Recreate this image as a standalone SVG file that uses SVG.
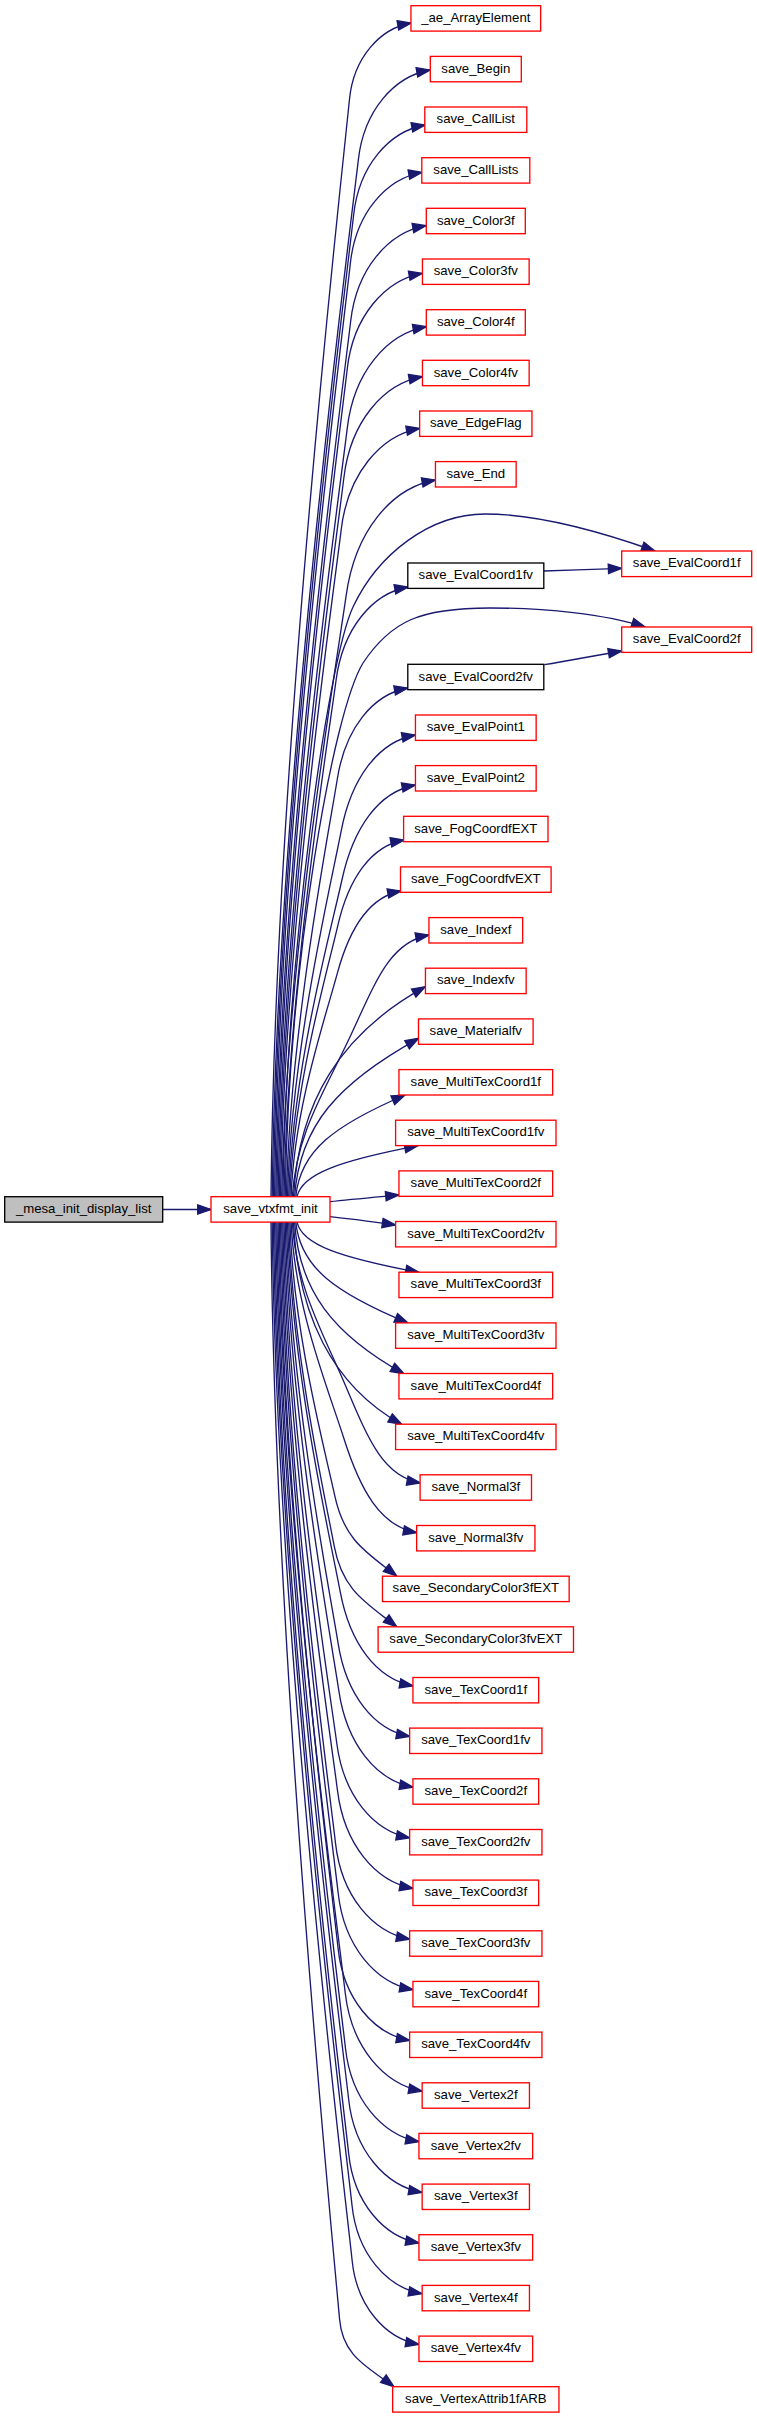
<svg xmlns="http://www.w3.org/2000/svg" width="757" height="2419" viewBox="0 0 757 2419">
<style>
.n rect{fill:#ffffff;stroke:#ff0000;stroke-width:1.33}
.b rect{stroke:#000000}
.g rect{fill:#bfbfbf;stroke:#000000}
text{font-family:"Liberation Sans",Arial,Helvetica,sans-serif;font-size:13.2px;text-anchor:middle;fill:#000000}
.e path{fill:none;stroke:#191970;stroke-width:1.33;marker-end:url(#ah)}
</style>
<defs>
<marker id="ah" markerUnits="userSpaceOnUse" orient="auto" overflow="visible" refX="0" refY="0" markerWidth="1" markerHeight="1">
<path d="M-13.3,-4.67 L0,0 L-13.3,4.67 Z" fill="#191970" stroke="#191970" stroke-width="1.33"/>
</marker>
</defs>
<rect x="0" y="0" width="757" height="2419" fill="#ffffff"/>
<g id="edges" class="e">
<path d="M162.7,1209.5 L211,1209.5"/>
<path d="M297,1196.7 C301.8,1173.8 339.4,1161 418,1145.7"/>
<path d="M295.8,1196.7 C300.2,1150.9 334,1125.5 405,1095"/>
<path d="M294.6,1196.7 C299.6,1125.4 338,1083 418.7,1038.3"/>
<path d="M293.5,1196.7 C298.8,1102.2 339.6,1034.1 425.3,986.7"/>
<path d="M292.3,1196.7 C296.4,1133 323.3,1093.9 349.7,1037.5 S389.4,942.2 429,935"/>
<path d="M291.1,1196.7 C294.4,1107.4 325.1,1018.7 337.3,973.4 S369.2,896.8 401,891"/>
<path d="M289.9,1196.7 C293.3,1088.3 327,972.7 337.8,925.6 S370.9,846 404,840"/>
<path d="M288.7,1196.7 C292.5,1070 330.5,932.3 341.9,880 S378.6,791.7 415.3,785"/>
<path d="M287.5,1196.7 C291.3,1050.4 331.1,883.6 341.2,830.9 S378.3,741.7 415.3,735"/>
<path d="M286.4,1196.7 C290,1029.6 329.4,829.1 337.3,779 S372.5,694.4 407.7,688"/>
<path d="M285.2,1196.7 C289,960 333,712 363,663 C391,621 420,608 490,608 C545,608 605,614 645,627"/>
<path d="M284,1196.7 C287.7,990 329.4,731.2 336.1,680 S372.1,593.5 408,587"/>
<path d="M282.8,1196.7 C287,950 328,660 353,607 C378,554 430,514 485,514 C540,514 610,535 655,551"/>
<path d="M281.7,1196.7 C286.3,956.1 337.4,658.6 346.2,595.2 S390.8,488.1 435.3,480"/>
<path d="M280.5,1196.7 C284.7,929.9 334.6,585.3 341.2,529.6 S380.5,435.4 419.7,428.3"/>
<path d="M279.3,1196.7 C283.6,909 337.4,532.9 343.9,477.5 S383.1,383.8 422.3,376.7"/>
<path d="M278.1,1196.7 C282.5,889.2 340.8,483.6 347.3,427.9 S386.8,333.8 426.3,326.7"/>
<path d="M276.9,1196.7 C281.3,865.7 341.4,421.9 347.2,369.2 S384.8,280 422.3,273.3"/>
<path d="M275.8,1196.7 C280.3,846.7 344.7,374.5 350.6,321.7 S388.3,232.4 426,225.7"/>
<path d="M274.6,1196.7 C279,823.2 345.1,312.9 350.4,263 S386.2,178.6 422,172.3"/>
<path d="M273.4,1196.7 C277.9,804.1 348.3,264.8 353.6,215.2 S389.3,131.3 425,125"/>
<path d="M272.2,1196.7 C276.9,782.1 352.9,209.7 358.3,160.1 S394.2,76.3 430,70"/>
<path d="M271,1196.7 C275.2,758 345.5,142.4 349.4,100 S380.2,28.4 411,23"/>
<path d="M330,1201.7 C350,1199.3 375,1197.2 399,1195"/>
<path d="M330,1216.7 C350,1219 375,1222 395.6,1225"/>
<path d="M297,1222.1 C301.9,1244.7 339.7,1257.3 419,1272.4"/>
<path d="M295.8,1222.1 C300.3,1267.5 335.1,1292.7 408,1323"/>
<path d="M294.6,1222.1 C299,1290.4 332.9,1334.4 404,1373.8"/>
<path d="M293.5,1222.1 C297.8,1313.1 331.4,1385.4 401.7,1424.4"/>
<path d="M292.3,1222.1 C296.1,1288.1 323.7,1334.2 346.1,1387 S383.2,1476.3 420.3,1483"/>
<path d="M291.1,1222.1 C294.9,1308.7 327.5,1386.7 343.9,1438.5 S380.3,1526.1 416.7,1532.7"/>
<path d="M289.9,1222.1 C293.1,1331.6 325.4,1451.9 334.8,1495.9 S365.8,1552 396.7,1576"/>
<path d="M288.7,1222.1 C291.9,1351.5 326,1501.2 334.1,1545.7 S365.4,1602.4 396.7,1626.7"/>
<path d="M287.5,1222.1 C291.3,1369.9 330.6,1540 340.2,1591.7 S376.6,1679.2 413,1685.8"/>
<path d="M286.4,1222.1 C290.1,1390.8 330.1,1593 338.2,1643.9 S374,1729.9 409.7,1736.4"/>
<path d="M285.2,1222.1 C289,1409.7 331.1,1638.5 338.9,1691.2 S376,1780.4 413,1787.1"/>
<path d="M284,1222.1 C287.8,1430.7 330,1691.6 336.8,1743.5 S373.3,1831.2 409.7,1837.8"/>
<path d="M282.8,1222.1 C286.7,1449.5 330.8,1737 337.5,1790.7 S375.3,1881.6 413,1888.4"/>
<path d="M281.7,1222.1 C285.5,1470.5 329.6,1790.3 335.5,1843.1 S372.6,1932.4 409.7,1939.1"/>
<path d="M280.5,1222.1 C284.5,1490.6 332.3,1840.3 338.2,1893.3 S375.6,1983 413,1989.7"/>
<path d="M279.3,1222.1 C283.2,1512.6 332.8,1897.8 338.1,1948.4 S373.9,2034 409.7,2040.4"/>
<path d="M278.1,1222.1 C282.4,1530.3 339.1,1938.6 345.2,1992.7 S383.6,2084.2 422,2091.1"/>
<path d="M276.9,1222.1 C281.2,1552.3 339.8,1996 345.4,2047.7 S382.2,2135.1 419,2141.7"/>
<path d="M275.8,1222.1 C280.2,1572.9 343.1,2047.6 348.6,2099 S385.3,2185.9 422,2192.4"/>
<path d="M274.6,1222.1 C278.9,1594.8 343.6,2104.9 348.7,2153.9 S383.9,2236.8 419,2243"/>
<path d="M273.4,1222.1 C277.9,1615.4 347,2156.7 352,2205.3 S387,2287.5 422,2293.7"/>
<path d="M272.2,1222.1 C276.6,1637.4 347.5,2214 352.1,2260.3 S385.6,2338.5 419,2344.4"/>
<path d="M271,1222.1 C274.7,1660.7 336.5,2281.1 339.5,2318.6 S366.8,2366.3 394,2386.7"/>
<path d="M543.7,571 C570,570.2 595,569.3 621.7,568.3"/>
<path d="M544.3,664.7 C570,660.5 595,655.5 621.7,651"/>
</g>
<g id="n_mesa_init_display_list" class="n g"><rect x="4.7" y="1196.7" width="158" height="25.4"/><text x="83.7" y="1212.9">_mesa_init_display_list</text></g>
<g id="n_save_vtxfmt_init" class="n"><rect x="211" y="1196.7" width="119" height="25.4"/><text x="270.5" y="1212.9">save_vtxfmt_init</text></g>
<g id="n_ae_ArrayElement" class="n"><rect x="410.95" y="5.7" width="129.7" height="25.4"/><text x="475.8" y="21.9">_ae_ArrayElement</text></g>
<g id="n_save_Begin" class="n"><rect x="430.3" y="56.4" width="91" height="25.4"/><text x="475.8" y="72.6">save_Begin</text></g>
<g id="n_save_CallList" class="n"><rect x="424.8" y="107" width="102" height="25.4"/><text x="475.8" y="123.2">save_CallList</text></g>
<g id="n_save_CallLists" class="n"><rect x="421.8" y="157.7" width="108" height="25.4"/><text x="475.8" y="173.9">save_CallLists</text></g>
<g id="n_save_Color3f" class="n"><rect x="426.3" y="208.3" width="99" height="25.4"/><text x="475.8" y="224.5">save_Color3f</text></g>
<g id="n_save_Color3fv" class="n"><rect x="422.45" y="259" width="106.7" height="25.4"/><text x="475.8" y="275.2">save_Color3fv</text></g>
<g id="n_save_Color4f" class="n"><rect x="426.3" y="309.7" width="99" height="25.4"/><text x="475.8" y="325.9">save_Color4f</text></g>
<g id="n_save_Color4fv" class="n"><rect x="422.45" y="360.3" width="106.7" height="25.4"/><text x="475.8" y="376.5">save_Color4fv</text></g>
<g id="n_save_EdgeFlag" class="n"><rect x="419.65" y="411" width="112.3" height="25.4"/><text x="475.8" y="427.2">save_EdgeFlag</text></g>
<g id="n_save_End" class="n"><rect x="435.45" y="461.6" width="80.7" height="25.4"/><text x="475.8" y="477.8">save_End</text></g>
<g id="n_save_EvalCoord1fv" class="n b"><rect x="407.8" y="563" width="136" height="25.4"/><text x="475.8" y="579.2">save_EvalCoord1fv</text></g>
<g id="n_save_EvalCoord1f" class="n"><rect x="621.7" y="551" width="130" height="25.6"/><text x="686.7" y="567.3">save_EvalCoord1f</text></g>
<g id="n_save_EvalCoord2fv" class="n b"><rect x="407.8" y="664.3" width="136" height="25.4"/><text x="475.8" y="680.5">save_EvalCoord2fv</text></g>
<g id="n_save_EvalCoord2f" class="n"><rect x="621.7" y="627" width="130" height="25.4"/><text x="686.7" y="643.2">save_EvalCoord2f</text></g>
<g id="n_save_EvalPoint1" class="n"><rect x="415.45" y="715" width="120.7" height="25.4"/><text x="475.8" y="731.2">save_EvalPoint1</text></g>
<g id="n_save_EvalPoint2" class="n"><rect x="415.45" y="765.6" width="120.7" height="25.4"/><text x="475.8" y="781.8">save_EvalPoint2</text></g>
<g id="n_save_FogCoordfEXT" class="n"><rect x="403.6" y="816.3" width="144.4" height="25.4"/><text x="475.8" y="832.5">save_FogCoordfEXT</text></g>
<g id="n_save_FogCoordfvEXT" class="n"><rect x="400.5" y="866.9" width="150.6" height="25.4"/><text x="475.8" y="883.1">save_FogCoordfvEXT</text></g>
<g id="n_save_Indexf" class="n"><rect x="428.95" y="917.6" width="93.7" height="25.4"/><text x="475.8" y="933.8">save_Indexf</text></g>
<g id="n_save_Indexfv" class="n"><rect x="425.45" y="968.2" width="100.7" height="25.4"/><text x="475.8" y="984.4">save_Indexfv</text></g>
<g id="n_save_Materialfv" class="n"><rect x="418.5" y="1018.9" width="114.6" height="25.4"/><text x="475.8" y="1035.1">save_Materialfv</text></g>
<g id="n_save_MultiTexCoord1f" class="n"><rect x="398.95" y="1069.6" width="153.7" height="25.4"/><text x="475.8" y="1085.8">save_MultiTexCoord1f</text></g>
<g id="n_save_MultiTexCoord1fv" class="n"><rect x="395.6" y="1120.2" width="160.4" height="25.4"/><text x="475.8" y="1136.4">save_MultiTexCoord1fv</text></g>
<g id="n_save_MultiTexCoord2f" class="n"><rect x="398.95" y="1170.9" width="153.7" height="25.4"/><text x="475.8" y="1187.1">save_MultiTexCoord2f</text></g>
<g id="n_save_MultiTexCoord2fv" class="n"><rect x="395.6" y="1221.5" width="160.4" height="25.4"/><text x="475.8" y="1237.7">save_MultiTexCoord2fv</text></g>
<g id="n_save_MultiTexCoord3f" class="n"><rect x="398.95" y="1272.2" width="153.7" height="25.4"/><text x="475.8" y="1288.4">save_MultiTexCoord3f</text></g>
<g id="n_save_MultiTexCoord3fv" class="n"><rect x="395.6" y="1322.9" width="160.4" height="25.4"/><text x="475.8" y="1339.1">save_MultiTexCoord3fv</text></g>
<g id="n_save_MultiTexCoord4f" class="n"><rect x="398.95" y="1373.5" width="153.7" height="25.4"/><text x="475.8" y="1389.7">save_MultiTexCoord4f</text></g>
<g id="n_save_MultiTexCoord4fv" class="n"><rect x="395.6" y="1424.2" width="160.4" height="25.4"/><text x="475.8" y="1440.4">save_MultiTexCoord4fv</text></g>
<g id="n_save_Normal3f" class="n"><rect x="420.1" y="1474.8" width="111.4" height="25.4"/><text x="475.8" y="1491">save_Normal3f</text></g>
<g id="n_save_Normal3fv" class="n"><rect x="416.65" y="1525.5" width="118.3" height="25.4"/><text x="475.8" y="1541.7">save_Normal3fv</text></g>
<g id="n_save_SecondaryColor3fEXT" class="n"><rect x="382.45" y="1576.2" width="186.7" height="25.4"/><text x="475.8" y="1592.4">save_SecondaryColor3fEXT</text></g>
<g id="n_save_SecondaryColor3fvEXT" class="n"><rect x="378.1" y="1626.8" width="195.4" height="25.4"/><text x="475.8" y="1643">save_SecondaryColor3fvEXT</text></g>
<g id="n_save_TexCoord1f" class="n"><rect x="412.95" y="1677.5" width="125.7" height="25.4"/><text x="475.8" y="1693.7">save_TexCoord1f</text></g>
<g id="n_save_TexCoord1fv" class="n"><rect x="409.65" y="1728.1" width="132.3" height="25.4"/><text x="475.8" y="1744.3">save_TexCoord1fv</text></g>
<g id="n_save_TexCoord2f" class="n"><rect x="412.95" y="1778.8" width="125.7" height="25.4"/><text x="475.8" y="1795">save_TexCoord2f</text></g>
<g id="n_save_TexCoord2fv" class="n"><rect x="409.65" y="1829.5" width="132.3" height="25.4"/><text x="475.8" y="1845.7">save_TexCoord2fv</text></g>
<g id="n_save_TexCoord3f" class="n"><rect x="412.95" y="1880.1" width="125.7" height="25.4"/><text x="475.8" y="1896.3">save_TexCoord3f</text></g>
<g id="n_save_TexCoord3fv" class="n"><rect x="409.65" y="1930.8" width="132.3" height="25.4"/><text x="475.8" y="1947">save_TexCoord3fv</text></g>
<g id="n_save_TexCoord4f" class="n"><rect x="412.95" y="1981.4" width="125.7" height="25.4"/><text x="475.8" y="1997.6">save_TexCoord4f</text></g>
<g id="n_save_TexCoord4fv" class="n"><rect x="409.65" y="2032.1" width="132.3" height="25.4"/><text x="475.8" y="2048.3">save_TexCoord4fv</text></g>
<g id="n_save_Vertex2f" class="n"><rect x="422.15" y="2082.8" width="107.3" height="25.4"/><text x="475.8" y="2099">save_Vertex2f</text></g>
<g id="n_save_Vertex2fv" class="n"><rect x="418.95" y="2133.4" width="113.7" height="25.4"/><text x="475.8" y="2149.6">save_Vertex2fv</text></g>
<g id="n_save_Vertex3f" class="n"><rect x="422.15" y="2184.1" width="107.3" height="25.4"/><text x="475.8" y="2200.3">save_Vertex3f</text></g>
<g id="n_save_Vertex3fv" class="n"><rect x="418.95" y="2234.7" width="113.7" height="25.4"/><text x="475.8" y="2250.9">save_Vertex3fv</text></g>
<g id="n_save_Vertex4f" class="n"><rect x="422.15" y="2285.4" width="107.3" height="25.4"/><text x="475.8" y="2301.6">save_Vertex4f</text></g>
<g id="n_save_Vertex4fv" class="n"><rect x="418.95" y="2336.1" width="113.7" height="25.4"/><text x="475.8" y="2352.3">save_Vertex4fv</text></g>
<g id="n_save_VertexAttrib1fARB" class="n"><rect x="392.65" y="2386.7" width="166.3" height="25.4"/><text x="475.8" y="2402.9">save_VertexAttrib1fARB</text></g>
</svg>
